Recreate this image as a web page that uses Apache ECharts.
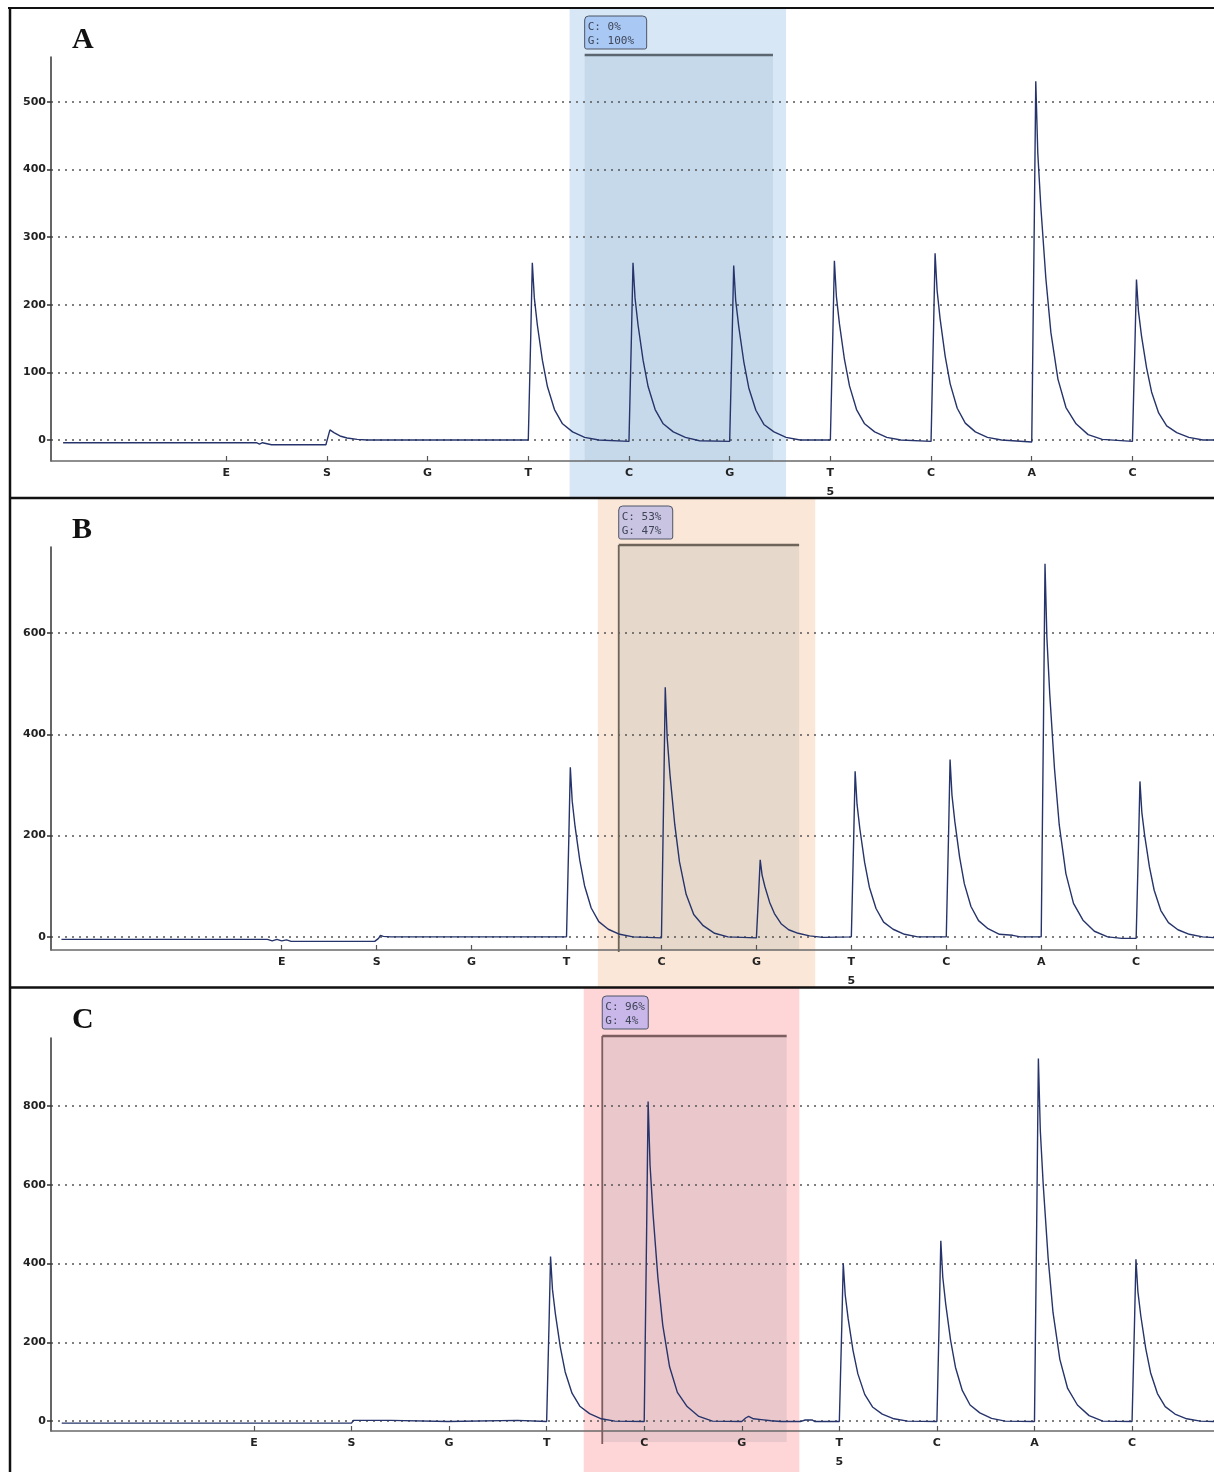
<!DOCTYPE html>
<html>
<head>
<meta charset="utf-8">
<script src="https://cdn.jsdelivr.net/npm/echarts@6/dist/echarts.min.js"></script>
<style>
  html, body { margin: 0; padding: 0; background: #fff; }
  #main { width: 1214px; height: 1472px; }
</style>
</head>
<body>
<div id="main"></div>
<script>
// dispensation order (x = dispensation index)
const dispensation = ['E', 'S', 'G', 'T', 'C', 'G', 'T', 'C', 'A', 'C'];
const dispIdx = [0, 1, 2, 3, 4, 5, 6, 7, 8, 9];
const positionIdx = 6;      // "5" printed under this dispensation
const positionText = '5';

const panelNames = ['A', 'B', 'C'];

// y ticks for each panel
const ticksA = [0, 100, 200, 300, 400, 500];
const ticksB = [0, 200, 400, 600];
const ticksC = [0, 200, 400, 600, 800];

// axis extents
const yRangeA = [-31, 566];
const yRangeB = [-26, 770];
const yRangeC = [-25, 973];
const xRangeA = [-1.74, 9.81];
const xRangeB = [-2.43, 9.82];
const xRangeC = [-2.08, 9.84];

// highlighted C/G position
const bandA = [3.41, 5.56], boxA = [3.56, 5.43];
const bandB = [3.33, 5.62], boxB = [3.55, 5.45];
const bandC = [3.38, 5.59], boxC = [3.57, 5.46];
const ratioA = ['C: 0%', 'G: 100%'];
const ratioB = ['C: 53%', 'G: 47%'];
const ratioC = ['C: 96%', 'G: 4%'];

// pyrogram traces [dispensation index, signal]
const traceA = [
  [-1.62,-4],[0.30,-4],[0.33,-6],[0.36,-4],[0.45,-7],[0.99,-7],[1.03,15],[1.07,11],[1.13,6],[1.2,3],[1.3,1],[1.4,0],[3.0,0],
  [3.01,0],[3.025,157],[3.04,262],[3.06,210],[3.09,170],[3.14,118],[3.19,79],[3.26,45],[3.34,24],[3.44,12],[3.56,4],[3.7,0],[4.0,-2],
  [4.01,-2],[4.025,157],[4.04,262],[4.06,210],[4.09,170],[4.14,118],[4.19,79],[4.26,45],[4.34,24],[4.44,12],[4.56,4],[4.7,-1],[5.0,-2],
  [5.01,-2],[5.025,155],[5.04,258],[5.06,206],[5.09,168],[5.14,116],[5.19,77],[5.26,44],[5.34,23],[5.44,12],[5.56,4],[5.7,0],[6.0,0],
  [6.01,0],[6.025,159],[6.04,265],[6.06,212],[6.09,172],[6.14,119],[6.19,80],[6.26,45],[6.34,24],[6.44,12],[6.56,4],[6.7,0],[7.0,-2],
  [7.01,-2],[7.025,166],[7.04,276],[7.06,221],[7.09,179],[7.14,124],[7.19,83],[7.26,47],[7.34,25],[7.44,12],[7.56,4],[7.7,0],[8.0,-3],
  [8.01,-3],[8.025,318],[8.04,530],[8.06,424],[8.09,345],[8.14,239],[8.19,159],[8.26,90],[8.34,48],[8.44,24],[8.56,8],[8.7,1],[9.0,-2],
  [9.01,-2],[9.025,142],[9.04,237],[9.06,190],[9.09,154],[9.14,107],[9.19,71],[9.26,40],[9.34,21],[9.44,11],[9.56,4],[9.7,0],[9.85,0]
];
const traceB = [
  [-2.32,-5],[-0.15,-5],[-0.1,-8],[-0.05,-5],[0.0,-8],[0.05,-6],[0.1,-9],[0.98,-9],[1.02,-3],[1.04,3],[1.07,1],[1.15,0],[3.0,0],
  [3.01,0],[3.025,201],[3.04,335],[3.06,268],[3.09,218],[3.14,151],[3.19,101],[3.26,57],[3.34,30],[3.44,15],[3.56,5],[3.7,0],[4.0,-2],
  [4.01,-2],[4.025,296],[4.04,493],[4.06,394],[4.09,320],[4.14,222],[4.19,148],[4.26,84],[4.34,44],[4.44,22],[4.56,7],[4.7,0],[5.0,-2],
  [5.01,-2],[5.025,91],[5.04,152],[5.06,122],[5.09,99],[5.14,68],[5.19,46],[5.26,26],[5.34,14],[5.44,7],[5.56,2],[5.7,-1],[6.0,0],
  [6.01,0],[6.025,196],[6.04,327],[6.06,262],[6.09,213],[6.14,147],[6.19,98],[6.26,56],[6.34,29],[6.44,15],[6.56,5],[6.7,0],[7.0,0],
  [7.01,0],[7.025,210],[7.04,350],[7.06,280],[7.09,228],[7.14,158],[7.19,105],[7.26,60],[7.34,32],[7.44,16],[7.56,5],[7.7,3],[7.78,0],[8.0,0],
  [8.01,0],[8.025,442],[8.04,737],[8.06,590],[8.09,479],[8.14,332],[8.19,221],[8.26,125],[8.34,66],[8.44,33],[8.56,11],[8.7,0],[8.85,-3],[9.0,-3],
  [9.01,-3],[9.025,184],[9.04,307],[9.06,246],[9.09,200],[9.14,138],[9.19,92],[9.26,52],[9.34,28],[9.44,14],[9.56,5],[9.7,0],[9.85,-2]
];
const traceC = [
  [-1.97,-5],[1.0,-5],[1.02,2],[1.4,2],[1.42,-1],[1.99,-1],[2.01,2],[2.7,2],[2.72,-1],[3.0,-1],
  [3.01,-1],[3.025,251],[3.04,418],[3.06,334],[3.09,272],[3.14,188],[3.19,125],[3.26,71],[3.34,38],[3.44,19],[3.56,6],[3.7,0],[4.0,-1],
  [4.01,-1],[4.025,487],[4.04,812],[4.06,650],[4.09,528],[4.14,365],[4.19,244],[4.26,138],[4.34,73],[4.44,37],[4.56,12],[4.7,0],[5.0,-1],
  [5.01,-1],[5.04,8],[5.07,12],[5.12,6],[5.2,4],[5.3,1],[5.4,-1],[5.6,-1],[5.65,3],[5.72,3],[5.75,-1],[6.0,-1],
  [6.01,-1],[6.025,241],[6.04,401],[6.06,321],[6.09,261],[6.14,180],[6.19,120],[6.26,68],[6.34,36],[6.44,18],[6.56,6],[6.7,0],[7.0,-1],
  [7.01,-1],[7.025,275],[7.04,458],[7.06,366],[7.09,298],[7.14,206],[7.19,137],[7.26,78],[7.34,41],[7.44,21],[7.56,7],[7.7,0],[8.0,-1],
  [8.01,-1],[8.025,553],[8.04,921],[8.06,737],[8.09,599],[8.14,414],[8.19,276],[8.26,157],[8.34,83],[8.44,41],[8.56,14],[8.7,0],[9.0,-1],
  [9.01,-1],[9.025,247],[9.04,411],[9.06,329],[9.09,267],[9.14,185],[9.19,123],[9.26,70],[9.34,37],[9.44,18],[9.56,6],[9.7,0],[9.85,-1]
];

const panels = [
  { trace: traceA, ticks: ticksA, yRange: yRangeA, xRange: xRangeA, band: bandA, box: boxA, ratio: ratioA,
    top: 8, bottom: 498, gridTop: 57, gridH: 404,
    bandColor: '#d8e7f5', boxColor: '#c5d9ea', tagColor: '#a9c8f3', edge: '#5b6670', outline: false },
  { trace: traceB, ticks: ticksB, yRange: yRangeB, xRange: xRangeB, band: bandB, box: boxB, ratio: ratioB,
    top: 498, bottom: 987, gridTop: 547, gridH: 403,
    bandColor: '#fbe7d8', boxColor: '#e6d8cb', tagColor: '#c9c4e2', edge: '#6e645a', outline: true },
  { trace: traceC, ticks: ticksC, yRange: yRangeC, xRange: xRangeC, band: bandC, box: boxC, ratio: ratioC,
    top: 988, bottom: 1472, gridTop: 1038, gridH: 404,
    bandColor: '#ffd6d7', boxColor: '#e9c7cb', tagColor: '#c8b7e8', edge: '#7c5e60', outline: true }
];

const chart = echarts.init(document.getElementById('main'));

const option = {
  backgroundColor: '#ffffff',
  animation: false,
  grid: panels.map(p => ({ left: 51, right: 0, top: p.gridTop, height: p.gridH })),
  xAxis: panels.map((p, k) => ({
    type: 'value', gridIndex: k, min: p.xRange[0], max: p.xRange[1],
    axisLine: { onZero: false, lineStyle: { color: '#6a6a6a', width: 1.5 } },
    axisTick: { show: true, inside: true, length: 5, customValues: dispIdx, lineStyle: { color: '#555', width: 1.2 } },
    axisLabel: {
      customValues: dispIdx, margin: 3, fontSize: 11, fontWeight: 'bold', color: '#222',
      fontFamily: 'DejaVu Sans', lineHeight: 19,
      formatter: function (v) {
        const i = Math.round(v);
        return i === positionIdx ? dispensation[i] + '\n' + positionText : dispensation[i];
      }
    },
    splitLine: { show: false }
  })),
  yAxis: panels.map((p, k) => ({
    type: 'value', gridIndex: k, min: p.yRange[0], max: p.yRange[1],
    axisLine: { show: true, onZero: false, lineStyle: { color: '#333', width: 1.5 } },
    axisTick: { show: true, length: 4, customValues: p.ticks, lineStyle: { color: '#333', width: 1.5 } },
    axisLabel: { customValues: p.ticks, fontSize: 11, fontWeight: 'bold', color: '#222', fontFamily: 'DejaVu Sans', margin: 5 },
    splitLine: { show: true, lineStyle: { type: [2, 5], color: '#555', width: 1.6 } }
  })),
  series: panels.map((p, k) => ({
    type: 'line', xAxisIndex: k, yAxisIndex: k, data: p.trace,
    showSymbol: false, symbol: 'none', z: 5,
    lineStyle: { color: '#26346b', width: 1.4 }
  }))
};
chart.setOption(option);

// highlight bands, ratio tags, panel letters and frame
const graphics = [];
panels.forEach((p, k) => {
  const bx0 = chart.convertToPixel({ xAxisIndex: k }, p.band[0]);
  const bx1 = chart.convertToPixel({ xAxisIndex: k }, p.band[1]);
  const ix0 = chart.convertToPixel({ xAxisIndex: k }, p.box[0]);
  const ix1 = chart.convertToPixel({ xAxisIndex: k }, p.box[1]);
  const yTop = p.gridTop - 2;
  const yBot = p.gridTop + p.gridH;
  graphics.push({ type: 'rect', z: -20, silent: true,
    shape: { x: bx0, y: p.top, width: bx1 - bx0, height: p.bottom - p.top },
    style: { fill: p.bandColor } });
  graphics.push({ type: 'rect', z: -15, silent: true,
    shape: { x: ix0, y: yTop, width: ix1 - ix0, height: yBot - yTop },
    style: { fill: p.boxColor } });
  graphics.push({ type: 'line', z: 3, silent: true,
    shape: { x1: ix0, y1: yTop, x2: ix1, y2: yTop },
    style: { stroke: p.edge, lineWidth: 2.5 } });
  if (p.outline) {
    graphics.push({ type: 'line', z: 3, silent: true,
      shape: { x1: ix0, y1: yTop, x2: ix0, y2: yBot + 2 },
      style: { stroke: p.edge, lineWidth: 1.8 } });
  }
  const tagW = p.ratio[1].length * 8 + 6;
  graphics.push({ type: 'rect', z: 4, silent: true,
    shape: { x: ix0, y: p.top + 8, width: tagW, height: 33, r: [4, 4, 2, 2] },
    style: { fill: p.tagColor, stroke: '#4d5566', lineWidth: 1 } });
  graphics.push({ type: 'text', z: 5, silent: true,
    style: { x: ix0 + 3, y: p.top + 12, text: p.ratio.join('\n'), lineHeight: 14,
      font: '11px "DejaVu Sans Mono"', fill: '#3e4556', textVerticalAlign: 'top' } });
  graphics.push({ type: 'text', z: 10, silent: true,
    style: { x: 72, y: p.top + 32, text: panelNames[k], font: 'bold 30px "Liberation Serif"',
      fill: '#111', textVerticalAlign: 'middle' } });
});
// outer frame and panel separators
graphics.push({ type: 'line', z: 50, silent: true, shape: { x1: 8, y1: 8, x2: 1214, y2: 8 }, style: { stroke: '#111', lineWidth: 2 } });
graphics.push({ type: 'line', z: 50, silent: true, shape: { x1: 10, y1: 7, x2: 10, y2: 1472 }, style: { stroke: '#111', lineWidth: 2.5 } });
graphics.push({ type: 'line', z: 50, silent: true, shape: { x1: 9, y1: 498, x2: 1214, y2: 498 }, style: { stroke: '#111', lineWidth: 2.5 } });
graphics.push({ type: 'line', z: 50, silent: true, shape: { x1: 9, y1: 987.5, x2: 1214, y2: 987.5 }, style: { stroke: '#111', lineWidth: 2.5 } });

chart.setOption({ graphic: graphics });
</script>
</body>
</html>
